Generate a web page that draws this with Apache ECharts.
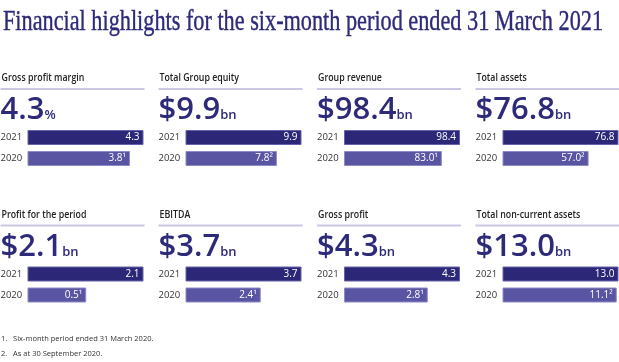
<!DOCTYPE html>
<html><head><meta charset="utf-8">
<script src="https://cdn.jsdelivr.net/npm/echarts@6/dist/echarts.min.js"></script>
<style>html,body{margin:0;padding:0;background:#fff}#c{width:619px;height:362px}</style>
</head><body><div id="c"></div>
<script>
// ---- data ----
const mainTitle = 'Financial highlights for the six-month period ended 31 March 2021';
const titles = ['Gross profit margin','Total Group equity','Group revenue','Total assets',
                'Profit for the period','EBITDA','Gross profit','Total non-current assets'];
const years = ['2021','2020'];
const values2021 = [4.3, 9.9, 98.4, 76.8, 2.1, 3.7, 4.3, 13.0];
const values2020 = [3.8, 7.8, 83.0, 57.0, 0.5, 2.4, 2.8, 11.1];
const notes2020 = ['¹','²','¹','²','¹','¹','¹','²'];
const prefixes = ['','$','$','$','$','$','$','$'];
const units = ['%','bn','bn','bn','bn','bn','bn','bn'];
const axisFloor = [0, 0, 0, 0, -1.14, 0, -1.1, -113];
const footnotes = ['1.   Six-month period ended 31 March 2020.','2.   As at 30 September 2020.'];

// ---- style / layout ----
const NAVY = '#2e2a7a';
const C21 = '#2c2877', C20 = '#5a55a2';
const colX = [0.5, 158.5, 317, 475.5];
const rowY = [0, 136.5];
const SANS = '"Open Sans", "Noto Sans", sans-serif';

const ctx = document.createElement('canvas').getContext('2d');
function textW(font, s){ ctx.font = font; return ctx.measureText(s).width; }

const grids = [], xAxes = [], yAxes = [], series = [], graphics = [];
const titleFont = '29px "Liberation Serif"';
const tW = textW(titleFont, mainTitle);
graphics.push({type:'text', x:3, y:37, scaleX: 600/tW, style:{text: mainTitle, font: titleFont, fill: NAVY,
  stroke: NAVY, lineWidth: 0.4, verticalAlign:'bottom'}});

const panelTitleFont = '600 10.5px ' + SANS;
for (let i = 0; i < 8; i++) {
  const cx = colX[i % 4], oy = rowY[Math.floor(i / 4)];
  grids.push({left: cx + 27, top: 127 + oy, width: 116, height: 42, containLabel:false, outerBoundsMode:'none'});
  xAxes.push({type:'value', gridIndex:i, show:false, min: axisFloor[i], max:'dataMax',
              startValue: axisFloor[i]});
  yAxes.push({type:'category', gridIndex:i, data: years, inverse:true,
              axisLine:{show:false}, axisTick:{show:false}, splitLine:{show:false},
              axisLabel:{align:'left', margin:27, fontSize:9.5, color:'#333', fontFamily:SANS}});
  series.push({type:'bar', xAxisIndex:i, yAxisIndex:i, barWidth:15, silent:true,
    data:[
      {value: values2021[i], itemStyle:{color:C21, borderColor:'#6662ad', borderWidth:1}},
      {value: values2020[i], itemStyle:{color:C20, borderColor:'#8e8ac6', borderWidth:1}}
    ],
    label:{show:true, position:'insideRight', distance:4, color:'#fff', fontSize:10, fontFamily:SANS,
      formatter: p => p.value.toFixed(1) + (p.dataIndex === 1 ? notes2020[i] : '')}
  });
  // panel title (condensed to match the narrow original face)
  graphics.push({type:'text', x: cx + 1, y: 78.5 + oy, scaleX: 0.84, style:{text: titles[i], fill:'#222',
      font: panelTitleFont, verticalAlign:'middle'}});
  // rule
  graphics.push({type:'line', shape:{x1: cx, y1: 89 + oy, x2: cx + 144, y2: 89 + oy},
      style:{stroke:'#c9c7e3', lineWidth:2}});
  // headline number
  graphics.push({type:'text', x: cx, y: 126 + oy, style:{
      text: '{a|' + prefixes[i] + values2021[i].toFixed(1) + '}{b|' + units[i] + '}',
      verticalAlign:'bottom',
      rich:{
        a:{fontSize:31, fontWeight:600, fontFamily:SANS, fill:NAVY, verticalAlign:'bottom', lineHeight:31},
        b:{fontSize:13, fontWeight:600, fontFamily:SANS, fill:NAVY, verticalAlign:'bottom', lineHeight:13, padding:[0,0,4,0]}
      }}});
}
footnotes.forEach((f, k) => graphics.push({type:'text', x:1, y: 339 + k*15,
  style:{text:f, font:'7.5px ' + SANS, fill:'#333', verticalAlign:'middle'}}));

const chart = echarts.init(document.getElementById('c'), null, {renderer:'canvas'});
chart.setOption({animation:false, grid:grids, xAxis:xAxes, yAxis:yAxes, series:series, graphic:graphics});
</script></body></html>
